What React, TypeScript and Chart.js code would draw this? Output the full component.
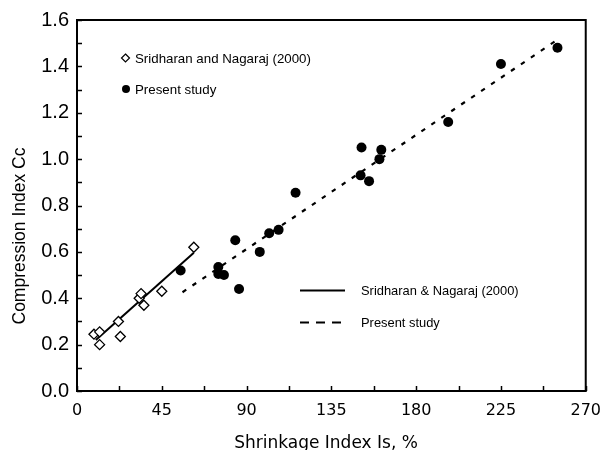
import React, { useEffect, useRef } from "react";
import { Chart, registerables } from "chart.js";

Chart.register(...registerables);

// ---- Data ----
const sridharanX = [9, 12, 12, 22, 23, 33, 34, 35.5, 45, 62];
const sridharanY = [0.245, 0.255, 0.2, 0.3, 0.235, 0.4, 0.42, 0.37, 0.43, 0.62];

const presentX = [55, 75, 75, 78, 84, 86, 97, 102, 107, 116, 150.5, 151, 155, 160.5, 161.5, 197, 225, 255];
const presentY = [0.52, 0.535, 0.505, 0.5, 0.65, 0.44, 0.6, 0.68, 0.695, 0.855, 0.93, 1.05, 0.905, 1.0, 1.04, 1.16, 1.41, 1.48];

const sridharanFitX = [10, 62];
const sridharanFitY = [0.22, 0.596];
const presentFitX = [56, 255];
const presentFitY = [0.426, 1.515];

const xMin = 0;
const xMax = 270;
const xStep = 45;
const yMin = 0;
const yMax = 1.6;
const yStep = 0.2;

const xTitle = "Shrinkage Index Is, %";
const yTitle = "Compression Index Cc";
const pointLegendLabels = ["Sridharan and Nagaraj (2000)", "Present study"];
const lineLegendLabels = ["Sridharan & Nagaraj (2000)", "Present study"];

const toPts = (xs: number[], ys: number[]) => xs.map((x, i) => ({ x, y: ys[i] }));

const decorPlugin = {
  id: "decor",
  afterDraw(chart: any) {
    const { ctx, chartArea, scales } = chart;
    const xs = scales.x;
    const ys = scales.y;
    ctx.save();
    ctx.strokeStyle = "#000";
    ctx.fillStyle = "#000";

    // frame
    ctx.lineWidth = 2;
    ctx.strokeRect(chartArea.left, chartArea.top, chartArea.right - chartArea.left, chartArea.bottom - chartArea.top);

    // inner ticks (major + minor)
    ctx.lineWidth = 1.5;
    ctx.beginPath();
    for (let v = yMin; v <= yMax + 1e-9; v += yStep / 2) {
      const py = Math.round(ys.getPixelForValue(v)) + 0.5;
      ctx.moveTo(chartArea.left, py);
      ctx.lineTo(chartArea.left + 5, py);
    }
    for (let v = xMin; v <= xMax + 1e-9; v += xStep / 2) {
      const px = Math.round(xs.getPixelForValue(v)) + 0.5;
      ctx.moveTo(px, chartArea.bottom);
      ctx.lineTo(px, chartArea.bottom - 5);
    }
    ctx.stroke();

    // axis titles
    ctx.font = "17px 'DejaVu Sans'";
    ctx.textAlign = "center";
    ctx.textBaseline = "alphabetic";
    ctx.fillText(xTitle, 326, 448);

    ctx.save();
    ctx.translate(25, 236);
    ctx.rotate(-Math.PI / 2);
    ctx.font = "17.5px 'Liberation Sans'";
    ctx.textAlign = "center";
    ctx.fillText(yTitle, 0, 0);
    ctx.restore();

    // marker legend (top-left)
    ctx.font = "13.3px 'Liberation Sans'";
    ctx.textAlign = "left";
    ctx.textBaseline = "alphabetic";
    // diamond
    ctx.lineWidth = 1.2;
    ctx.beginPath();
    ctx.moveTo(125.5, 54);
    ctx.lineTo(129.5, 58);
    ctx.lineTo(125.5, 62);
    ctx.lineTo(121.5, 58);
    ctx.closePath();
    ctx.fillStyle = "#fff";
    ctx.fill();
    ctx.stroke();
    ctx.fillStyle = "#000";
    ctx.fillText(pointLegendLabels[0], 135, 62.5);
    ctx.beginPath();
    ctx.arc(126, 89, 4, 0, Math.PI * 2);
    ctx.fill();
    ctx.fillText(pointLegendLabels[1], 135, 93.5);

    // line legend (bottom-right)
    ctx.font = "12.9px 'Liberation Sans'";
    ctx.lineWidth = 2;
    ctx.beginPath();
    ctx.moveTo(300, 290.5);
    ctx.lineTo(345, 290.5);
    ctx.stroke();
    ctx.fillText(lineLegendLabels[0], 361, 295);
    ctx.setLineDash([9, 7]);
    ctx.beginPath();
    ctx.moveTo(300, 322.5);
    ctx.lineTo(347, 322.5);
    ctx.stroke();
    ctx.setLineDash([]);
    ctx.fillText(lineLegendLabels[1], 361, 327);

    ctx.restore();
  },
};

export default function App() {
  const ref = useRef<HTMLCanvasElement | null>(null);

  useEffect(() => {
    if (!ref.current) return;
    const chart = new Chart(ref.current, {
      type: "scatter",
      data: {
        datasets: [
          {
            label: "Sridharan and Nagaraj (2000)",
            data: toPts(sridharanX, sridharanY),
            pointStyle: "rectRot",
            pointRadius: 5,
            backgroundColor: "#fff",
            borderColor: "#000",
            borderWidth: 1.3,
            order: 0,
          },
          {
            label: "Present study",
            data: toPts(presentX, presentY),
            pointStyle: "circle",
            pointRadius: 5,
            backgroundColor: "#000",
            borderColor: "#000",
            borderWidth: 0,
            order: 0,
          },
          {
            type: "line",
            label: "Sridharan & Nagaraj (2000) fit",
            data: toPts(sridharanFitX, sridharanFitY),
            borderColor: "#000",
            borderWidth: 2,
            pointRadius: 0,
            fill: false,
            order: 1,
          } as any,
          {
            type: "line",
            label: "Present study fit",
            data: toPts(presentFitX, presentFitY),
            borderColor: "#000",
            borderWidth: 2.2,
            borderDash: [4.5, 7.5],
            pointRadius: 0,
            fill: false,
            order: 1,
          } as any,
        ],
      },
      options: {
        animation: false,
        responsive: false,
        maintainAspectRatio: false,
        layout: { padding: { top: 14, right: 18, left: 0, bottom: 0 } },
        plugins: {
          legend: { display: false },
          tooltip: { enabled: false },
        },
        scales: {
          x: {
            type: "linear",
            min: xMin,
            max: xMax,
            ticks: {
              stepSize: xStep,
              color: "#000",
              font: { family: "'DejaVu Sans'", size: 16 },
              padding: 10,
              maxRotation: 0,
            },
            grid: { display: false, drawTicks: false },
            border: { display: false },
            afterFit: (s: any) => {
              s.height = 59;
            },
          },
          y: {
            type: "linear",
            min: yMin,
            max: yMax,
            ticks: {
              stepSize: yStep,
              color: "#000",
              font: { family: "'Liberation Sans'", size: 20 },
              padding: 8,
              callback: (v: any) => Number(v).toFixed(1),
            },
            grid: { display: false, drawTicks: false },
            border: { display: false },
            afterFit: (s: any) => {
              s.width = 77;
            },
          },
        },
      },
      plugins: [decorPlugin],
    });
    return () => chart.destroy();
  }, []);

  return (
    <div style={{ position: "fixed", left: 0, top: 0, width: 611, height: 450, background: "#fff" }}>
      <canvas ref={ref} width={611} height={450} style={{ width: 611, height: 450 }} />
    </div>
  );
}
